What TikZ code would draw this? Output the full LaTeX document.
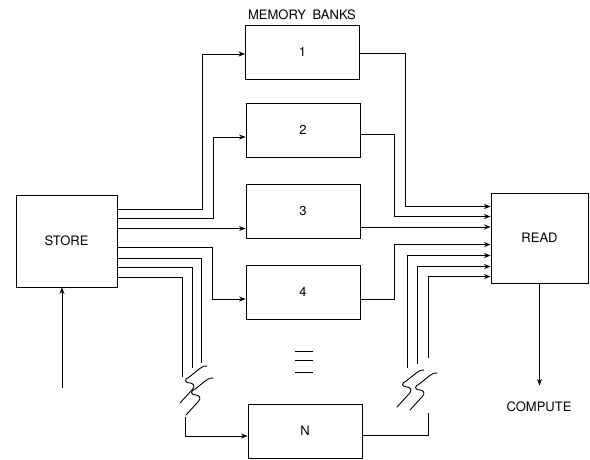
\documentclass[tikz,border=0pt]{standalone}
\usepackage{fontspec}
\setmainfont{TeX Gyre Heros}
\usetikzlibrary{arrows.meta,calc}
\newcommand\lblfont{\fontsize{13}{15}\selectfont}
\begin{document}
\begin{tikzpicture}[x=1pt,y=-1pt,
  lw/.style={line width=0.9pt},
  lbl/.style={font=\lblfont},
  box/.style={draw,lw,minimum width=114pt,minimum height=54pt,inner sep=0pt,lbl},
  arr/.style={lw,-{Stealth[length=6.5pt,width=5pt]}},
  wire/.style={lw},
  brk/.pic={\draw[lw,line cap=round,line join=round,scale=1.12] (0,0) -- (11,-12) .. controls (14,-15) and (12,-18) .. (8,-18) .. controls (4,-18) and (4,-22) .. (8,-23) -- (18,-31) .. controls (20,-33) and (22,-33) .. (24,-33);}]
\useasboundingbox (0,0) rectangle (590,460);
% nodes
\node[lbl] (title) at (302,15) {MEMORY\hspace{0.5em}BANKS};
\node[box] (b1) at (302.5,52) {1};
\node[box] (b2) at (303,130) {2};
\node[box] (b3) at (303,211) {3};
\node[box] (b4) at (303,292) {4};
\node[box] (bN) at (305,431) {N};
\node[draw,lw,minimum width=101pt,minimum height=92pt,inner sep=0pt,lbl] (store) at (66.5,241) {STORE};
\node[draw,lw,minimum width=97pt,minimum height=90pt,inner sep=0pt,lbl] (read) at (539.5,238) {READ};
\node[lbl] (compute) at (539,407) {COMPUTE};
% dots between 4 and N
\draw[lw] (295,351) -- (313,351) (295,360) -- (313,360) (295,372) -- (313,372);
% store -> banks
\draw[arr] ([yshift=-15pt]store.north east) -- ++(85,0) |- ([yshift=-2pt]b1.west);
\draw[arr] ([yshift=-24pt]store.north east) -- ++(96,0) |- ([yshift=-7pt]b2.west);
\draw[arr] ([yshift=-34pt]store.north east) coordinate (s3) -- (s3 -| b3.west);
\draw[arr] ([yshift=-53pt]store.north east) -- ++(95,0) |- ([yshift=-7pt]b4.west);
\draw[wire] ([yshift=-64pt]store.north east) -- ++(84,0) -- ++(0,104);
\draw[wire] ([yshift=-73pt]store.north east) -- ++(75,0) -- ++(0,100);
\draw[wire] ([yshift=-83pt]store.north east) -- ++(65,0) -- ++(0,99);
\coordinate (nin) at (185,417);
\draw[arr] (nin) |- ([yshift=-5pt]bN.west);
% banks -> read
\draw[arr] ([yshift=-1pt]b1.east) -- ++(45,0) |- ([yshift=-14pt]read.north west);
\draw[arr] ([yshift=-4pt]b2.east) -- ++(34,0) |- ([yshift=-24pt]read.north west);
\draw[arr] ([yshift=-16pt]b3.east) coordinate (o3) -- (o3 -| read.west);
\draw[arr] ([yshift=-7pt]b4.east) -- ++(34,0) |- ([yshift=-52pt]read.north west);
\coordinate (r1) at (407,368);
\coordinate (r2) at (417,364);
\coordinate (r3) at (428,358);
\draw[arr] (r1) |- ([yshift=-63pt]read.north west);
\draw[arr] (r2) |- ([yshift=-74pt]read.north west);
\draw[arr] (r3) |- ([yshift=-84pt]read.north west);
\draw[wire] ([yshift=-4pt]bN.east) -- ++(66,0) -- ++(0,-22);
% input / output
\coordinate (sin) at (62,388);
\draw[arr] (sin) -- (sin |- store.south);
\draw[arr] (read.south) -- ++(0,102);
% breaks
\pic at (180,403) {brk};
\pic at (186,415) {brk};
\pic at (397,407) {brk};
\pic at (410,410) {brk};
\end{tikzpicture}
\end{document}
